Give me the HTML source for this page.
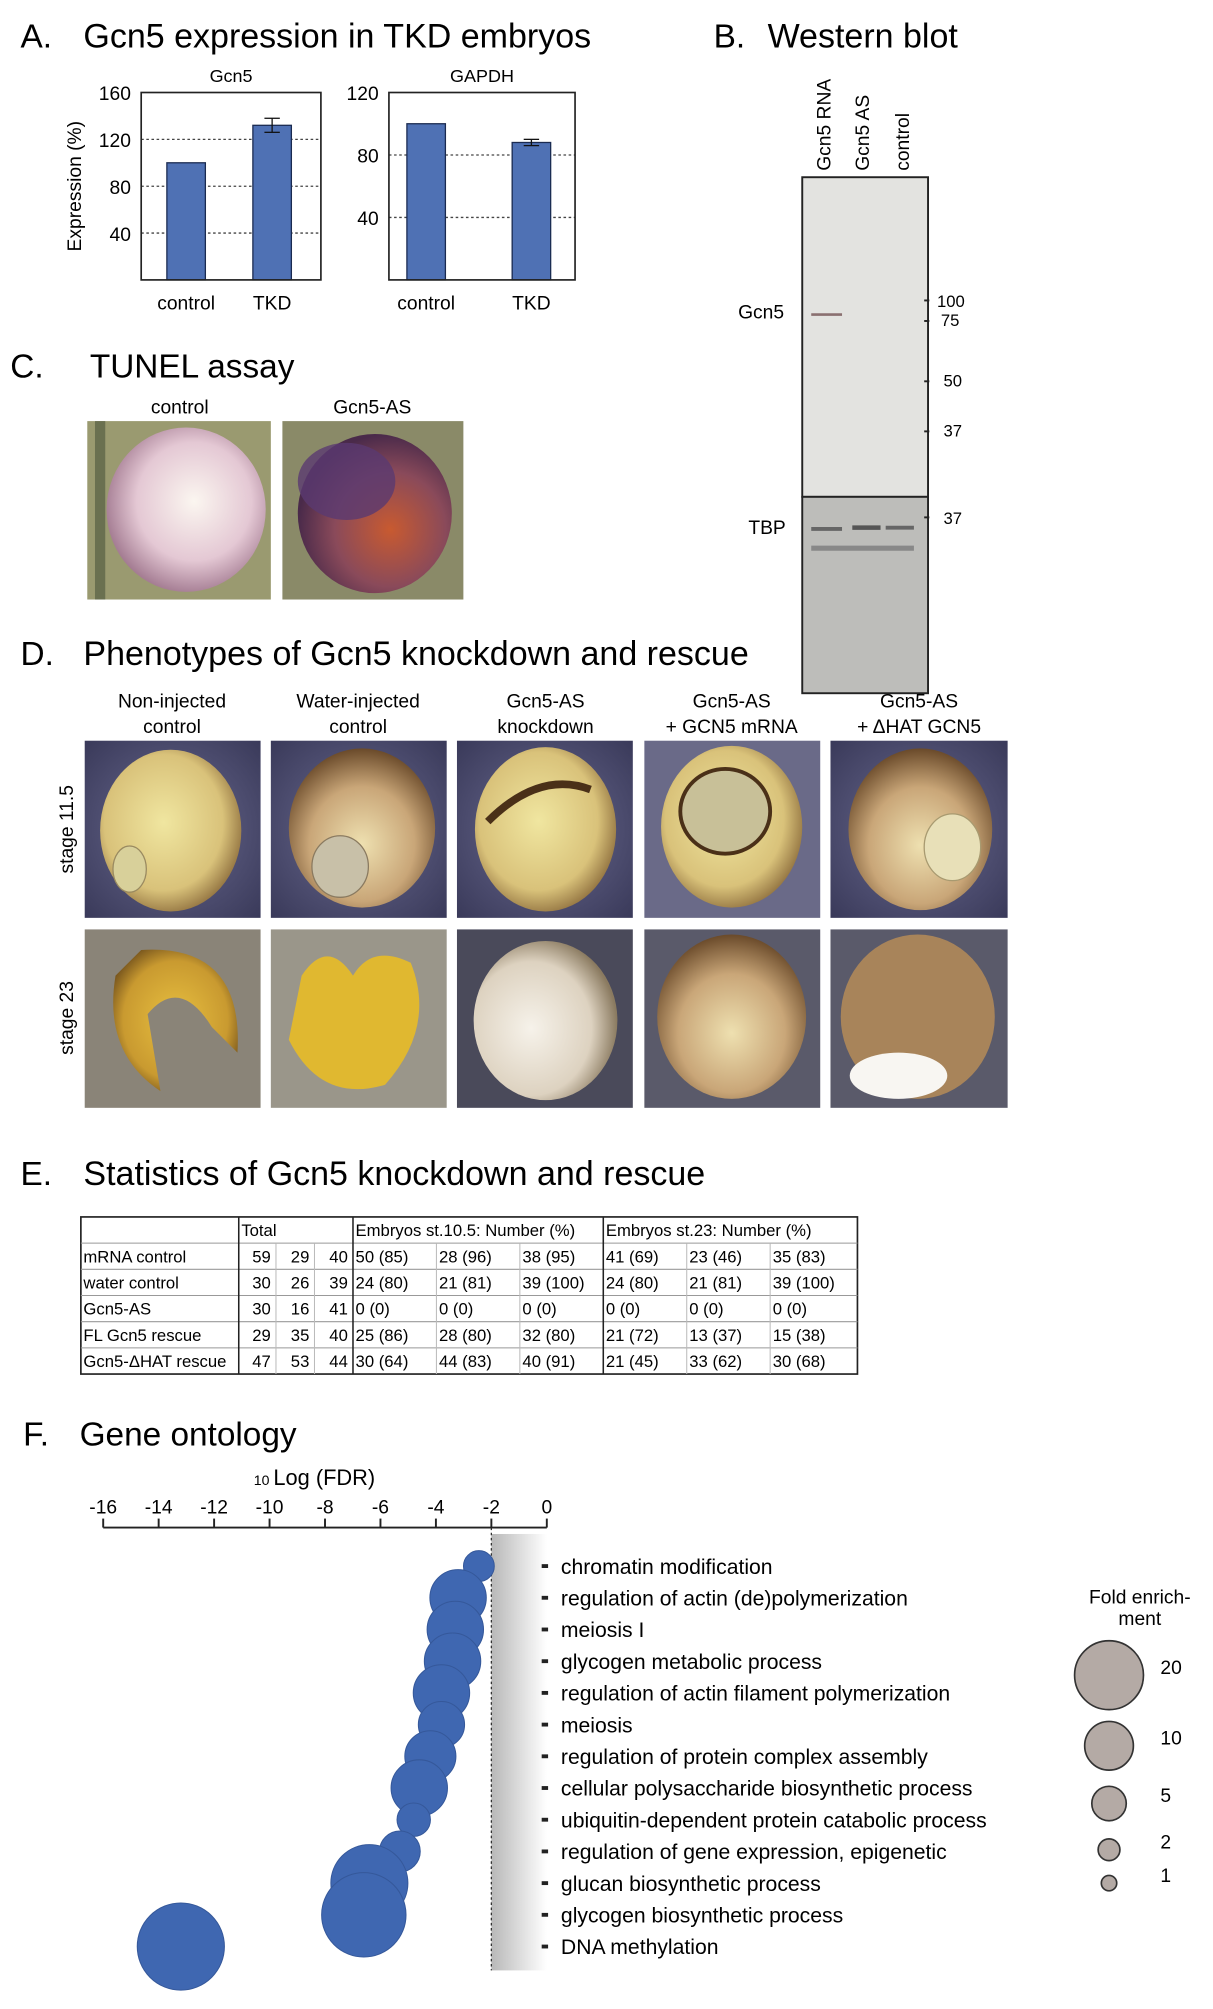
<!DOCTYPE html>
<html><head><meta charset="utf-8">
<style>
html,body{margin:0;padding:0;background:#fff;}
svg{display:block;font-family:"Liberation Sans",Arial,sans-serif;}
</style></head>
<body>
<svg id="fig" width="1213" height="2009" viewBox="0 0 945 1565" xmlns="http://www.w3.org/2000/svg">
<defs>
<radialGradient id="gYel" cx="0.45" cy="0.45" r="0.6"><stop offset="0" stop-color="#f0e6a0"/><stop offset="0.7" stop-color="#d9c27a"/><stop offset="1" stop-color="#8a6a3a"/></radialGradient>
<radialGradient id="gBrn" cx="0.5" cy="0.6" r="0.6"><stop offset="0" stop-color="#eee0b0"/><stop offset="0.6" stop-color="#c9a678"/><stop offset="1" stop-color="#6a4a2a"/></radialGradient>
<radialGradient id="gGold" cx="0.5" cy="0.5" r="0.6"><stop offset="0" stop-color="#e8c040"/><stop offset="0.7" stop-color="#c99a30"/><stop offset="1" stop-color="#6a4a1a"/></radialGradient>
<radialGradient id="gWhite" cx="0.4" cy="0.55" r="0.6"><stop offset="0" stop-color="#f6f2ea"/><stop offset="0.7" stop-color="#ddd2c0"/><stop offset="1" stop-color="#8a7a60"/></radialGradient>
<radialGradient id="gBg" cx="0.5" cy="0.5" r="0.7"><stop offset="0" stop-color="#6a6a90"/><stop offset="1" stop-color="#3a3a5a"/></radialGradient>
<radialGradient id="gPink" cx="0.55" cy="0.45" r="0.6"><stop offset="0" stop-color="#fbf6f0"/><stop offset="0.6" stop-color="#e4c8d4"/><stop offset="1" stop-color="#9a7088"/></radialGradient>
<radialGradient id="gDark" cx="0.6" cy="0.6" r="0.6"><stop offset="0" stop-color="#c85a30"/><stop offset="0.6" stop-color="#8a4a5a"/><stop offset="1" stop-color="#4a2a4a"/></radialGradient>
<linearGradient id="gShade" x1="0" x2="1" y1="0" y2="0"><stop offset="0" stop-color="#b8b8b8"/><stop offset="1" stop-color="#ffffff"/></linearGradient>
</defs>

<!-- Panel A -->
<text x="16" y="37" font-size="26">A.</text>
<text x="65" y="37" font-size="26.5">Gcn5 expression in TKD embryos</text>
<g id="chartA1"></g>
<g id="chartA2"></g>
<text transform="translate(63,145) rotate(-90)" text-anchor="middle" font-size="15">Expression (%)</text>

<!-- Panel B -->
<text x="556" y="37" font-size="26">B.</text>
<text x="598" y="37" font-size="26.5">Western blot</text>
<g>
<text transform="translate(647,133) rotate(-90)" font-size="15">Gcn5 RNA</text>
<text transform="translate(677,133) rotate(-90)" font-size="15">Gcn5 AS</text>
<text transform="translate(708,133) rotate(-90)" font-size="15">control</text>
<rect x="625" y="138" width="98" height="249" fill="#e3e3e0" stroke="#222" stroke-width="1.5"/>
<rect x="625" y="387" width="98" height="153" fill="#bdbdba" stroke="#222" stroke-width="1.5"/>
<line x1="632" y1="245" x2="656" y2="245" stroke="#8a7070" stroke-width="2"/>
<line x1="632" y1="412" x2="656" y2="412" stroke="#666" stroke-width="3"/>
<line x1="664" y1="411" x2="686" y2="411" stroke="#555" stroke-width="3.5"/>
<line x1="690" y1="411" x2="712" y2="411" stroke="#666" stroke-width="3"/>
<line x1="632" y1="427" x2="712" y2="427" stroke="#888" stroke-width="4"/>
<text x="575" y="248" font-size="15">Gcn5</text>
<text x="583" y="416" font-size="15">TBP</text>
<g font-size="13">
<text x="730" y="239">100</text><text x="733" y="254">75</text><text x="735" y="301">50</text><text x="735" y="340">37</text><text x="735" y="408">37</text>
</g>
<g stroke="#222" stroke-width="1.5"><line x1="720" y1="234" x2="724" y2="234"/><line x1="720" y1="250" x2="724" y2="250"/><line x1="720" y1="297" x2="724" y2="297"/><line x1="720" y1="336" x2="724" y2="336"/><line x1="720" y1="403" x2="724" y2="403"/></g>
</g>

<!-- Panel C -->
<text x="8" y="294" font-size="26">C.</text>
<text x="70" y="294" font-size="26">TUNEL assay</text>
<text x="140" y="322" font-size="15" text-anchor="middle">control</text>
<text x="290" y="322" font-size="15" text-anchor="middle">Gcn5-AS</text>
<g>
<rect x="68" y="328" width="143" height="139" fill="#9a9a70"/>
<rect x="74" y="328" width="8" height="139" fill="#6a7050"/>
<ellipse cx="145" cy="397" rx="62" ry="64" fill="url(#gPink)"/>
</g>
<g>
<rect x="220" y="328" width="141" height="139" fill="#8a8a68"/>
<ellipse cx="292" cy="400" rx="60" ry="62" fill="url(#gDark)"/>
<ellipse cx="270" cy="375" rx="38" ry="30" fill="#5a3a70" opacity="0.8"/>
</g>

<!-- Panel D -->
<text x="16" y="518" font-size="26">D.</text>
<text x="65" y="518" font-size="26.5">Phenotypes of Gcn5 knockdown and rescue</text>
<g font-size="15" text-anchor="middle">
<text x="134" y="551">Non-injected</text><text x="134" y="571">control</text>
<text x="279" y="551">Water-injected</text><text x="279" y="571">control</text>
<text x="425" y="551">Gcn5-AS</text><text x="425" y="571">knockdown</text>
<text x="570" y="551">Gcn5-AS</text><text x="570" y="571">+ GCN5 mRNA</text>
<text x="716" y="551">Gcn5-AS</text><text x="716" y="571">+ ΔHAT GCN5</text>
</g>
<text transform="translate(57,646) rotate(-90)" font-size="15" text-anchor="middle">stage 11.5</text>
<text transform="translate(57,793) rotate(-90)" font-size="15" text-anchor="middle">stage 23</text>
<g>
<rect x="66" y="577" width="137" height="138" fill="url(#gBg)"/>
<ellipse cx="133" cy="647" rx="55" ry="63" fill="url(#gYel)"/>
<ellipse cx="101" cy="677" rx="13" ry="18" fill="#d8d09a" stroke="#9a8a60"/>
<rect x="211" y="577" width="137" height="138" fill="url(#gBg)"/>
<ellipse cx="282" cy="645" rx="57" ry="62" fill="url(#gBrn)"/>
<ellipse cx="265" cy="675" rx="22" ry="24" fill="#c8c0a8" stroke="#8a7a60"/>
<rect x="356" y="577" width="137" height="138" fill="url(#gBg)"/>
<ellipse cx="425" cy="646" rx="55" ry="64" fill="url(#gYel)"/>
<path d="M380 640 Q420 600 460 615" stroke="#4a3018" stroke-width="6" fill="none"/>
<rect x="502" y="577" width="137" height="138" fill="#6a6a88"/>
<ellipse cx="570" cy="644" rx="55" ry="63" fill="url(#gYel)"/>
<ellipse cx="565" cy="632" rx="35" ry="33" fill="#c8c098" stroke="#4a3018" stroke-width="3"/>
<rect x="647" y="577" width="138" height="138" fill="url(#gBg)"/>
<ellipse cx="717" cy="646" rx="56" ry="63" fill="url(#gBrn)"/>
<ellipse cx="742" cy="660" rx="22" ry="26" fill="#e8e0b8" stroke="#a89a70"/>
<rect x="66" y="724" width="137" height="139" fill="#8a8478"/>
<path d="M110 740 Q190 735 185 820 L165 800 Q140 760 115 790 L125 850 Q80 820 90 760 Z" fill="url(#gGold)"/>
<rect x="211" y="724" width="137" height="139" fill="#9a968a"/>
<path d="M235 760 Q255 730 275 760 Q290 735 320 750 Q340 800 300 845 Q250 860 225 810 Z" fill="#e0b830"/>
<rect x="356" y="724" width="137" height="139" fill="#4a4a5a"/>
<ellipse cx="425" cy="795" rx="56" ry="62" fill="url(#gWhite)"/>
<rect x="502" y="724" width="137" height="139" fill="#5a5a6a"/>
<ellipse cx="570" cy="792" rx="58" ry="64" fill="url(#gBrn)"/>
<rect x="647" y="724" width="138" height="139" fill="#5a5a6a"/>
<ellipse cx="715" cy="792" rx="60" ry="64" fill="#a8845a"/>
<ellipse cx="700" cy="838" rx="38" ry="18" fill="#f8f6f2"/>
</g>

<!-- Panel E -->
<text x="16" y="923" font-size="26">E.</text>
<text x="65" y="923" font-size="26.5">Statistics of Gcn5 knockdown and rescue</text>
<g id="table"></g>

<!-- Panel F -->
<text x="18" y="1126" font-size="26">F.</text>
<text x="62" y="1126" font-size="26">Gene ontology</text>
<g id="chartF"></g>
<g>
<text x="888" y="1249" font-size="15" text-anchor="middle">Fold enrich-</text>
<text x="888" y="1266" font-size="15" text-anchor="middle">ment</text>
<g id="legend"></g>
</g>
</svg>
<script>
const NS="http://www.w3.org/2000/svg";
// ---- Panel A data ----
const barCategories=["control","TKD"];
const gcn5Values=[100,132];
const gcn5Errors=[0,6];
const gapdhValues=[100,88];
const gapdhErrors=[0,2];
const gcn5Ticks=[40,80,120,160];
const gapdhTicks=[40,80,120];
// ---- Panel E data ----
const tableHeaders=["","Total","Embryos st.10.5: Number (%)","Embryos st.23: Number (%)"];
const rowLabels=["mRNA control","water control","Gcn5-AS","FL Gcn5 rescue","Gcn5-ΔHAT rescue"];
const totals=[[59,29,40],[30,26,39],[30,16,41],[29,35,40],[47,53,44]];
const st105=[["50 (85)","28 (96)","38 (95)"],["24 (80)","21 (81)","39 (100)"],["0 (0)","0 (0)","0 (0)"],["25 (86)","28 (80)","32 (80)"],["30 (64)","44 (83)","40 (91)"]];
const st23=[["41 (69)","23 (46)","35 (83)"],["24 (80)","21 (81)","39 (100)"],["0 (0)","0 (0)","0 (0)"],["21 (72)","13 (37)","15 (38)"],["21 (45)","33 (62)","30 (68)"]];
// ---- Panel F data ----
const goTerms=["chromatin modification","regulation of actin (de)polymerization","meiosis I","glycogen metabolic process","regulation of actin filament polymerization","meiosis","regulation of protein complex assembly","cellular polysaccharide biosynthetic process","ubiquitin-dependent protein catabolic process","regulation of gene expression, epigenetic","glucan biosynthetic process","glycogen biosynthetic process","DNA methylation"];
const logFDR=[-2.45,-3.2,-3.3,-3.4,-3.8,-3.8,-4.2,-4.6,-4.8,-5.3,-6.4,-6.6,-13.2];
const foldEnrichment=[4,13.4,13.4,13.4,13.4,9,11,13.4,4.7,7,25,30,32];
const fdrTicks=[-16,-14,-12,-10,-8,-6,-4,-2,0];
const legendFolds=[20,10,5,2,1];

function el(tag,attrs,parent,text){const e=document.createElementNS(NS,tag);for(const k in attrs)e.setAttribute(k,attrs[k]);if(text!==undefined)e.textContent=text;parent.appendChild(e);return e;}

function barChart(g,title,vals,errs,ticks,x0,x1,y0,y1,maxV,barXs,barW){
  const y=v=>y1-(v/maxV)*(y1-y0);
  el("text",{x:(x0+x1)/2,y:y0-8,"font-size":14,"text-anchor":"middle"},g,title);
  ticks.forEach(t=>{
    if(t<maxV) el("line",{x1:x0,x2:x1,y1:y(t),y2:y(t),stroke:"#444","stroke-dasharray":"2,2","stroke-width":1},g);
    const lab=el("text",{x:x0-8,y:y(t)+6,"font-size":15,"text-anchor":"end"},g,String(t));
    
    
  });
  vals.forEach((v,i)=>{
    const r=el("rect",{x:barXs[i],y:y(v),width:barW,height:y1-y(v),fill:"#4f71b4",stroke:"#1a2a50","stroke-width":1},g);
    
    
    if(errs[i]>0){
      const cx=barXs[i]+barW/2;
      el("line",{x1:cx,x2:cx,y1:y(v+errs[i]),y2:y(v-errs[i]),stroke:"#111"},g);
      el("line",{x1:cx-6,x2:cx+6,y1:y(v+errs[i]),y2:y(v+errs[i]),stroke:"#111"},g);
      el("line",{x1:cx-6,x2:cx+6,y1:y(v-errs[i]),y2:y(v-errs[i]),stroke:"#111"},g);
    }
    const xl=el("text",{x:barXs[i]+barW/2,y:y1+23,"font-size":15,"text-anchor":"middle"},g,barCategories[i]);
    
    
  });
  el("rect",{x:x0,y:y0,width:x1-x0,height:y1-y0,fill:"none",stroke:"#222","stroke-width":1.3},g);
}
barChart(document.getElementById("chartA1"),"Gcn5",gcn5Values,gcn5Errors,gcn5Ticks,110,250,72,218,160,[130,197],30);
barChart(document.getElementById("chartA2"),"GAPDH",gapdhValues,gapdhErrors,gapdhTicks,303,448,72,218,120,[317,399],30);

// Table
(function(){
  const g=document.getElementById("table");
  const X=[63,186,215,245,275,340,405,470,535,600,668];
  const Y0=948,H=20.4;
  el("rect",{x:63,y:Y0,width:605,height:H*6,fill:"#fff",stroke:"#222","stroke-width":1.3},g);
  for(let r=1;r<6;r++) el("line",{x1:63,x2:668,y1:Y0+r*H,y2:Y0+r*H,stroke:"#999","stroke-width":0.8},g);
  [2,3,5,6,8,9].forEach(i=>el("line",{x1:X[i],x2:X[i],y1:Y0+H,y2:Y0+6*H,stroke:"#bbb","stroke-width":0.8},g));
  [1,4,7].forEach(i=>el("line",{x1:X[i],x2:X[i],y1:Y0,y2:Y0+6*H,stroke:"#222","stroke-width":1.2},g));
  const fs=13;
  el("text",{x:X[1]+2,y:Y0+15,"font-size":fs},g,tableHeaders[1]);
  el("text",{x:X[4]+2,y:Y0+15,"font-size":fs},g,tableHeaders[2]);
  el("text",{x:X[7]+2,y:Y0+15,"font-size":fs},g,tableHeaders[3]);
  rowLabels.forEach((lab,r)=>{
    const yy=Y0+(r+1)*H+15;
    const t=el("text",{x:X[0]+2,y:yy,"font-size":fs},g,lab);
    
    
    totals[r].forEach((v,c)=>el("text",{x:X[2+c]-4,y:yy,"font-size":fs,"text-anchor":"end"},g,String(v)));
    st105[r].forEach((v,c)=>el("text",{x:X[4+c]+2,y:yy,"font-size":fs},g,v));
    st23[r].forEach((v,c)=>el("text",{x:X[7+c]+2,y:yy,"font-size":fs},g,v));
  });
})();

// Gene ontology bubble chart
(function(){
  const g=document.getElementById("chartF");
  const xs=v=>426+v*21.6;
  const rowY=i=>1220+i*24.7;
  const rad=f=>6*Math.sqrt(f);
  el("rect",{x:xs(-2),y:1195,width:xs(0)-xs(-2),height:340,fill:"url(#gShade)"},g);
  el("line",{x1:xs(-2),x2:xs(-2),y1:1190,y2:1535,stroke:"#333","stroke-dasharray":"2,2"},g);
  el("line",{x1:xs(-16),x2:xs(0),y1:1190,y2:1190,stroke:"#222","stroke-width":1.5},g);
  const axt=el("text",{x:245,y:1157,"font-size":17,"text-anchor":"middle"},g);
  el("tspan",{"font-size":11},axt,"10 ");
  el("tspan",{},axt,"Log (FDR)");
  
  
  fdrTicks.forEach(t=>{
    el("line",{x1:xs(t),x2:xs(t),y1:1183,y2:1190,stroke:"#222","stroke-width":1.5},g);
    const lab=el("text",{x:xs(t),y:1179,"font-size":15,"text-anchor":"middle"},g,String(t));
    
    
  });
  goTerms.forEach((term,i)=>{
    el("rect",{x:422,y:rowY(i)-1.5,width:5,height:3,fill:"#222"},g);
    const t=el("text",{x:437,y:rowY(i)+6,"font-size":16.5},g,term);
    
    
  });
  goTerms.forEach((term,i)=>{
    const c=el("circle",{cx:xs(logFDR[i]),cy:rowY(i),r:rad(foldEnrichment[i]),fill:"#3f67b1",stroke:"#35589a","stroke-width":0.8},g);
    
    
  });
  const lg=document.getElementById("legend");
  const ly=[1305,1360,1405,1441,1467];
  legendFolds.forEach((f,i)=>{
    const c=el("circle",{cx:864,cy:ly[i],r:rad(f),fill:"#b4aaa5",stroke:"#333","stroke-width":1.3},lg);
    
    
    el("text",{x:904,y:ly[i]-1,"font-size":15},lg,String(f));
  });
})();
</script>
</body></html>
